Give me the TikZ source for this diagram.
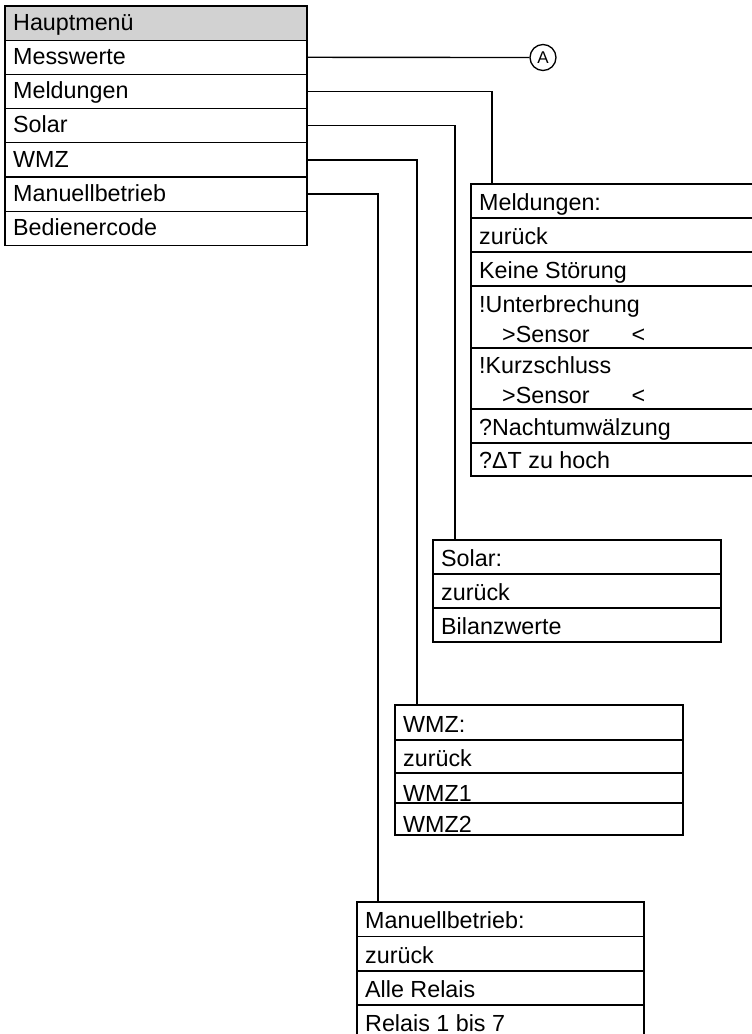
\documentclass[tikz,border=0pt]{standalone}
\usepackage{fontspec}
\setmainfont{Liberation Sans}
\begin{document}
\begin{tikzpicture}[x=1pt,y=-1pt,
  row/.style={draw,line width=1.35pt,rectangle,inner sep=0pt,outer sep=0pt,anchor=north west},
  txt/.style={anchor=base west,inner sep=0pt,font=\fontsize{23.3}{27}\selectfont},
  link/.style={draw,line width=1.35pt}]
\clip (0,0) rectangle (752,1034);
\fill[white] (0,0) rectangle (752,1034);

% main menu
\node[row,minimum width=302pt,minimum height=34.2pt,fill=gray!35] (h0) at (5,6) {};
\node[row,minimum width=302pt,minimum height=34.2pt] (m1) at (5,40.2) {};
\node[row,minimum width=302pt,minimum height=34.2pt] (m2) at (5,74.4) {};
\node[row,minimum width=302pt,minimum height=34.2pt] (m3) at (5,108.6) {};
\node[row,minimum width=302pt,minimum height=34.2pt] (m4) at (5,142.8) {};
\node[row,minimum width=302pt,minimum height=34.2pt] (m5) at (5,177) {};
\node[row,minimum width=302pt,minimum height=34.2pt] (m6) at (5,211.2) {};
\node[txt] (th0) at ([xshift=8pt,yshift=10pt]h0.south west) {Hauptmenü};
\node[txt] (tm1) at ([xshift=8pt,yshift=10pt]m1.south west) {Messwerte};
\node[txt] (tm2) at ([xshift=8pt,yshift=10pt]m2.south west) {Meldungen};
\node[txt] (tm3) at ([xshift=8pt,yshift=10pt]m3.south west) {Solar};
\node[txt] (tm4) at ([xshift=8pt,yshift=10pt]m4.south west) {WMZ};
\node[txt] (tm5) at ([xshift=8pt,yshift=10pt]m5.south west) {Manuellbetrieb};
\node[txt] (tm6) at ([xshift=8pt,yshift=10pt]m6.south west) {Bedienercode};

% A
\node[draw,circle,line width=1.35pt,minimum size=26pt,inner sep=0pt,font=\fontsize{17}{20}\selectfont] (A) at (543,57.5) {A};

% Meldungen box
\node[row,minimum width=300pt,minimum height=34pt] (g0) at (471,184) {};
\node[row,minimum width=300pt,minimum height=34pt] (g1) at (471,218) {};
\node[row,minimum width=300pt,minimum height=34pt] (g2) at (471,252) {};
\node[row,minimum width=300pt,minimum height=62pt] (g3) at (471,286) {};
\node[row,minimum width=300pt,minimum height=61pt] (g4) at (471,348) {};
\node[row,minimum width=300pt,minimum height=34pt] (g5) at (471,409) {};
\node[row,minimum width=300pt,minimum height=33pt] (g6) at (471,443) {};
\node[txt] (tg0) at ([xshift=8pt,yshift=8pt]g0.south west) {Meldungen:};
\node[txt] (tg1) at ([xshift=8pt,yshift=8pt]g1.south west) {zurück};
\node[txt] (tg2) at ([xshift=8pt,yshift=8pt]g2.south west) {Keine Störung};
\node[txt] (tg3a) at ([xshift=8pt,yshift=36pt]g3.south west) {!Unterbrechung};
\node[txt] (tg3b) at ([xshift=31pt,yshift=6pt]g3.south west) {>Sensor\hspace{42pt}<};
\node[txt] (tg4a) at ([xshift=8pt,yshift=36pt]g4.south west) {!Kurzschluss};
\node[txt] (tg4b) at ([xshift=31pt,yshift=6pt]g4.south west) {>Sensor\hspace{42pt}<};
\node[txt] (tg5) at ([xshift=8pt,yshift=8pt]g5.south west) {?Nachtumwälzung};
\node[txt] (tg6) at ([xshift=8pt,yshift=8pt]g6.south west) {?ΔT zu hoch};

% Solar box
\node[row,minimum width=288pt,minimum height=34pt] (s0) at (433,540) {};
\node[row,minimum width=288pt,minimum height=34pt] (s1) at (433,574) {};
\node[row,minimum width=288pt,minimum height=34pt] (s2) at (433,608) {};
\node[txt] (ts0) at ([xshift=8pt,yshift=8pt]s0.south west) {Solar:};
\node[txt] (ts1) at ([xshift=8pt,yshift=8pt]s1.south west) {zurück};
\node[txt] (ts2) at ([xshift=8pt,yshift=8pt]s2.south west) {Bilanzwerte};

% WMZ box
\node[row,minimum width=288pt,minimum height=35pt] (w0) at (395,705) {};
\node[row,minimum width=288pt,minimum height=33pt] (w1) at (395,740) {};
\node[row,minimum width=288pt,minimum height=30pt] (w2) at (395,773) {};
\node[row,minimum width=288pt,minimum height=32pt] (w3) at (395,803) {};
\node[txt] (tw0) at ([xshift=8pt,yshift=8pt]w0.south west) {WMZ:};
\node[txt] (tw1) at ([xshift=8pt,yshift=7pt]w1.south west) {zurück};
\node[txt] (tw2) at ([xshift=8pt,yshift=2pt]w2.south west) {WMZ1};
\node[txt] (tw3) at ([xshift=8pt,yshift=3pt]w3.south west) {WMZ2};

% Manuellbetrieb box
\node[row,minimum width=287pt,minimum height=34.5pt] (r0) at (357,902) {};
\node[row,minimum width=287pt,minimum height=34.5pt] (r1) at (357,936.5) {};
\node[row,minimum width=287pt,minimum height=34pt] (r2) at (357,971) {};
\node[row,minimum width=287pt,minimum height=40pt] (r3) at (357,1005) {};
\node[txt] (tr0) at ([xshift=8pt,yshift=8pt]r0.south west) {Manuellbetrieb:};
\node[txt] (tr1) at ([xshift=8pt,yshift=8pt]r1.south west) {zurück};
\node[txt] (tr2) at ([xshift=8pt,yshift=8pt]r2.south west) {Alle Relais};
\node[txt] (tr3) at ([xshift=8pt,yshift=14pt]r3.south west) {Relais 1 bis 7};

% connectors
\draw[link] (m1.east) -- (A);
\draw[link] (m2.east) -| ([xshift=21pt]g0.north west);
\draw[link] (m3.east) -| ([xshift=22pt]s0.north west);
\draw[link] (m4.east) -| ([xshift=22pt]w0.north west);
\draw[link] (m5.east) -| ([xshift=21pt]r0.north west);
\end{tikzpicture}
\end{document}
